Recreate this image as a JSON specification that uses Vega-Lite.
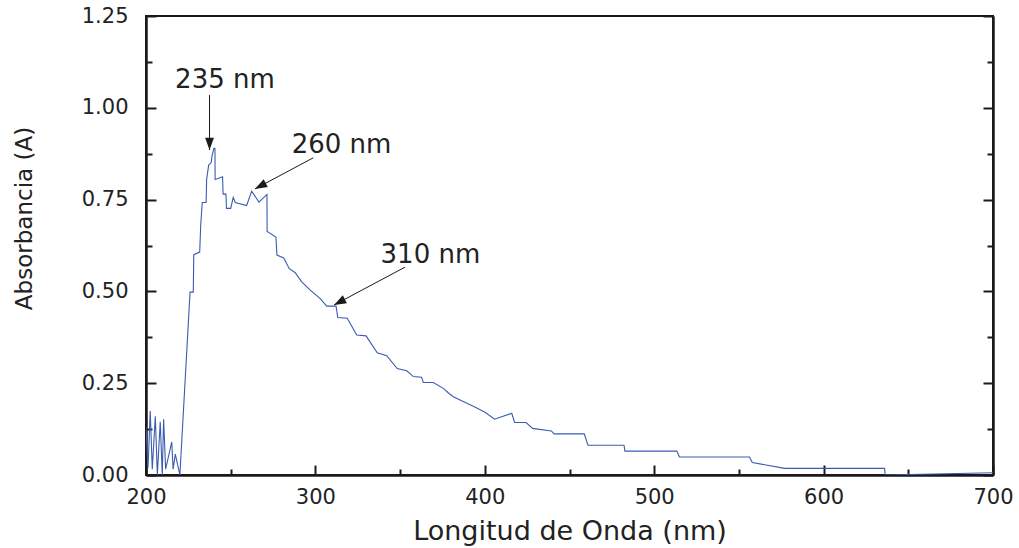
{
  "$schema": "https://vega.github.io/schema/vega-lite/v6.json",
  "width": 847,
  "height": 459,
  "autosize": {"type": "none"},
  "padding": {"left": 146, "top": 16, "right": 26, "bottom": 73},
  "background": "white",
  "config": {
    "view": {"stroke": "#1a1a1a", "strokeWidth": 2},
    "axis": {
      "grid": false,
      "domainColor": "#1a1a1a",
      "domainWidth": 2.5,
      "tickColor": "#1a1a1a",
      "tickWidth": 2,
      "labelFont": "DejaVu Sans",
      "labelFontSize": 21,
      "labelColor": "#222222",
      "labelFlush": false,
      "labelBound": false,
      "labelOverlap": false,
      "titleFont": "DejaVu Sans",
      "titleFontWeight": "normal",
      "titleColor": "#222222"
    }
  },
  "datasets": {
    "spectrum": [
      {"wavelength": 200.0, "absorbance": 0.13},
      {"wavelength": 201.2, "absorbance": 0.02},
      {"wavelength": 202.5, "absorbance": 0.174},
      {"wavelength": 203.7, "absorbance": 0.016},
      {"wavelength": 205.5, "absorbance": 0.16},
      {"wavelength": 206.7, "absorbance": 0.0},
      {"wavelength": 208.4, "absorbance": 0.145},
      {"wavelength": 209.6, "absorbance": 0.0},
      {"wavelength": 210.4, "absorbance": 0.152},
      {"wavelength": 211.6, "absorbance": 0.016},
      {"wavelength": 215.2, "absorbance": 0.09},
      {"wavelength": 216.0, "absorbance": 0.016},
      {"wavelength": 217.3, "absorbance": 0.057},
      {"wavelength": 220.0, "absorbance": 0.0},
      {"wavelength": 226.0, "absorbance": 0.498},
      {"wavelength": 227.9, "absorbance": 0.498},
      {"wavelength": 228.2, "absorbance": 0.6},
      {"wavelength": 231.7, "absorbance": 0.607},
      {"wavelength": 232.3, "absorbance": 0.681},
      {"wavelength": 233.2, "absorbance": 0.742},
      {"wavelength": 235.5, "absorbance": 0.742},
      {"wavelength": 235.8, "absorbance": 0.805},
      {"wavelength": 237.0, "absorbance": 0.844},
      {"wavelength": 238.5, "absorbance": 0.851},
      {"wavelength": 239.0, "absorbance": 0.87},
      {"wavelength": 240.1, "absorbance": 0.89},
      {"wavelength": 240.7, "absorbance": 0.89},
      {"wavelength": 240.8, "absorbance": 0.805},
      {"wavelength": 242.9, "absorbance": 0.808},
      {"wavelength": 245.2, "absorbance": 0.812},
      {"wavelength": 245.5, "absorbance": 0.765},
      {"wavelength": 247.2, "absorbance": 0.765},
      {"wavelength": 247.5, "absorbance": 0.726},
      {"wavelength": 250.0, "absorbance": 0.726},
      {"wavelength": 251.5, "absorbance": 0.756},
      {"wavelength": 252.7, "absorbance": 0.742},
      {"wavelength": 259.4, "absorbance": 0.734},
      {"wavelength": 262.4, "absorbance": 0.773},
      {"wavelength": 266.7, "absorbance": 0.743},
      {"wavelength": 271.4, "absorbance": 0.764},
      {"wavelength": 271.5, "absorbance": 0.663},
      {"wavelength": 276.7, "absorbance": 0.648},
      {"wavelength": 277.3, "absorbance": 0.599},
      {"wavelength": 281.3, "absorbance": 0.591},
      {"wavelength": 284.6, "absorbance": 0.562},
      {"wavelength": 288.1, "absorbance": 0.551},
      {"wavelength": 291.9, "absorbance": 0.526},
      {"wavelength": 296.8, "absorbance": 0.504},
      {"wavelength": 302.7, "absorbance": 0.481},
      {"wavelength": 306.7, "absorbance": 0.46},
      {"wavelength": 312.2, "absorbance": 0.46},
      {"wavelength": 313.2, "absorbance": 0.429},
      {"wavelength": 318.8, "absorbance": 0.427},
      {"wavelength": 324.4, "absorbance": 0.381},
      {"wavelength": 329.9, "absorbance": 0.379},
      {"wavelength": 336.5, "absorbance": 0.333},
      {"wavelength": 342.1, "absorbance": 0.325},
      {"wavelength": 348.3, "absorbance": 0.29},
      {"wavelength": 353.9, "absorbance": 0.284},
      {"wavelength": 357.8, "absorbance": 0.268},
      {"wavelength": 362.7, "absorbance": 0.266},
      {"wavelength": 363.7, "absorbance": 0.252},
      {"wavelength": 369.6, "absorbance": 0.252},
      {"wavelength": 375.5, "absorbance": 0.236},
      {"wavelength": 378.9, "absorbance": 0.222},
      {"wavelength": 381.4, "absorbance": 0.213},
      {"wavelength": 387.3, "absorbance": 0.2},
      {"wavelength": 394.7, "absorbance": 0.184},
      {"wavelength": 400.1, "absorbance": 0.171},
      {"wavelength": 405.8, "absorbance": 0.152},
      {"wavelength": 415.9, "absorbance": 0.168},
      {"wavelength": 417.6, "absorbance": 0.143},
      {"wavelength": 424.4, "absorbance": 0.143},
      {"wavelength": 428.2, "absorbance": 0.127},
      {"wavelength": 439.3, "absorbance": 0.12},
      {"wavelength": 440.9, "absorbance": 0.112},
      {"wavelength": 458.7, "absorbance": 0.112},
      {"wavelength": 460.9, "absorbance": 0.081},
      {"wavelength": 482.2, "absorbance": 0.081},
      {"wavelength": 482.7, "absorbance": 0.065},
      {"wavelength": 513.4, "absorbance": 0.065},
      {"wavelength": 514.9, "absorbance": 0.049},
      {"wavelength": 556.2, "absorbance": 0.049},
      {"wavelength": 557.9, "absorbance": 0.034},
      {"wavelength": 577.0, "absorbance": 0.018},
      {"wavelength": 636.0, "absorbance": 0.018},
      {"wavelength": 636.3, "absorbance": 0.0},
      {"wavelength": 700.0, "absorbance": 0.006}
    ],
    "arrows": [
      {"peak": "235 nm", "part": "tail", "wavelength": 237.5, "absorbance": 1.035},
      {"peak": "235 nm", "part": "tip", "wavelength": 237.5, "absorbance": 0.885},
      {"peak": "260 nm", "part": "tail", "wavelength": 298.8, "absorbance": 0.864},
      {"peak": "260 nm", "part": "tip", "wavelength": 264.3, "absorbance": 0.779},
      {"peak": "310 nm", "part": "tail", "wavelength": 352.9, "absorbance": 0.566},
      {"peak": "310 nm", "part": "tip", "wavelength": 311.0, "absorbance": 0.463}
    ],
    "labels": [
      {"peak": "235 nm", "wavelength": 246.6, "absorbance": 1.076},
      {"peak": "260 nm", "wavelength": 315.4, "absorbance": 0.899},
      {"peak": "310 nm", "wavelength": 367.9, "absorbance": 0.598}
    ]
  },
  "layer": [
    {
      "data": {"name": "spectrum"},
      "mark": {"type": "line", "color": "#3a5cb0", "strokeWidth": 1.1, "clip": true},
      "encoding": {
        "x": {
          "field": "wavelength",
          "type": "quantitative",
          "scale": {"domain": [200, 700], "nice": false, "zero": false},
          "axis": {
            "orient": "bottom",
            "title": "Longitud de Onda (nm)",
            "titleFontSize": 27,
            "titleY": 56,
            "titleBaseline": "middle",
            "values": [200, 250, 300, 350, 400, 450, 500, 550, 600, 650, 700],
            "labelExpr": "datum.value % 100 == 0 ? datum.label : ''",
            "labelPadding": 21,
            "tickSize": {"condition": {"test": "datum.value % 100 != 0", "value": -6}, "value": -10}
          }
        },
        "y": {
          "field": "absorbance",
          "type": "quantitative",
          "scale": {"domain": [0, 1.25], "nice": false, "zero": true},
          "axis": {
            "orient": "left",
            "title": "Absorbancia (A)",
            "titleFontSize": 23,
            "titleX": -122,
            "titleY": 202,
            "titleAlign": "center",
            "titleBaseline": "middle",
            "values": [0, 0.125, 0.25, 0.375, 0.5, 0.625, 0.75, 0.875, 1, 1.125, 1.25],
            "format": ".2f",
            "labelExpr": "(datum.value * 8) % 2 == 1 ? '' : datum.label",
            "labelPadding": 28,
            "tickSize": {"condition": {"test": "(datum.value * 8) % 2 == 1", "value": -6}, "value": -10}
          }
        }
      }
    },
    {
      "data": {"name": "arrows"},
      "mark": {"type": "line", "color": "#1a1a1a", "strokeWidth": 1},
      "encoding": {
        "x": {"field": "wavelength", "type": "quantitative"},
        "y": {"field": "absorbance", "type": "quantitative", "axis": null},
        "detail": {"field": "peak"}
      }
    },
    {
      "data": {"name": "arrows"},
      "transform": [{"filter": "datum.part == 'tip' && datum.peak == '235 nm'"}],
      "mark": {"type": "point", "shape": "M0,0L-0.36,1L0.36,1Z", "filled": true, "color": "#1a1a1a", "opacity": 1, "size": 600, "angle": 180},
      "encoding": {
        "x": {"field": "wavelength", "type": "quantitative"},
        "y": {"field": "absorbance", "type": "quantitative", "axis": null}
      }
    },
    {
      "data": {"name": "arrows"},
      "transform": [{"filter": "datum.part == 'tip' && datum.peak != '235 nm'"}],
      "mark": {"type": "point", "shape": "M0,0L-0.36,1L0.36,1Z", "filled": true, "color": "#1a1a1a", "opacity": 1, "size": 600, "angle": 242},
      "encoding": {
        "x": {"field": "wavelength", "type": "quantitative"},
        "y": {"field": "absorbance", "type": "quantitative", "axis": null}
      }
    },
    {
      "data": {"name": "labels"},
      "mark": {"type": "text", "font": "DejaVu Sans", "fontSize": 26, "color": "#222222", "align": "center", "baseline": "middle"},
      "encoding": {
        "x": {"field": "wavelength", "type": "quantitative"},
        "y": {"field": "absorbance", "type": "quantitative", "axis": null},
        "text": {"field": "peak"}
      }
    },
    {
      "data": {"name": "spectrum"},
      "mark": {"type": "line", "opacity": 0},
      "encoding": {
        "x": {"field": "wavelength", "type": "quantitative"},
        "y": {
          "field": "absorbance",
          "type": "quantitative",
          "axis": {
            "orient": "right",
            "title": null,
            "labels": false,
            "values": [0, 0.125, 0.25, 0.375, 0.5, 0.625, 0.75, 0.875, 1, 1.125, 1.25],
            "tickSize": {"condition": {"test": "(datum.value * 8) % 2 == 1", "value": -6}, "value": -10}
          }
        }
      }
    }
  ],
  "resolve": {"axis": {"y": "independent"}}
}
